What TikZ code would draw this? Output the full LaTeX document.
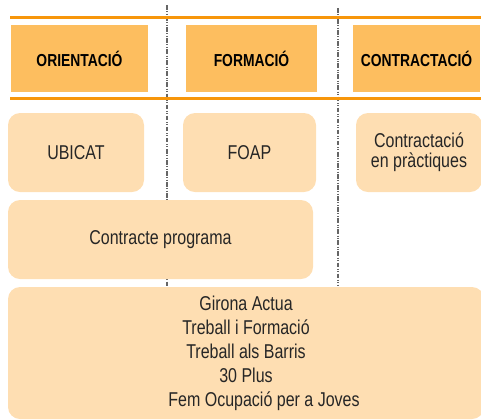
\documentclass[tikz,border=0pt]{standalone}
\usepackage{fontspec}
\setmainfont{Liberation Sans}[FakeStretch=0.8]
\usetikzlibrary{positioning}
\definecolor{rulecol}{RGB}{247,150,10}
\definecolor{headcol}{RGB}{253,190,95}
\definecolor{progcol}{RGB}{254,222,178}
\newcommand{\px}{0.75pt}

\begin{document}
\begin{tikzpicture}[x=\px, y=-\px]
\tikzstyle{head}=[fill=headcol, inner sep=0pt, minimum height=67*\px,
                        text=black, font=\fontsize{13}{15}\selectfont\bfseries]
\tikzstyle{prog}=[fill=progcol, rounded corners=12*\px, inner sep=0pt, align=center,
                        text=black!85, font=\fontsize{15}{18}\selectfont]
\tikzstyle{sep}=[draw=black!60, line width=0.8pt,
                        dash pattern=on 3.5pt off 1.2pt on 0.6pt off 1.2pt on 0.6pt off 1.2pt]
\tikzstyle{band}=[draw=rulecol, line width=1.6pt]
\clip (0,0) rectangle (481,419);
% column separators
\foreach \n/\x/\y in {A/167/5,B/338/8}{
  \coordinate (sep\n top) at (\x,\y);
  \coordinate (sep\n bot) at (\x,286);
  \draw[sep] (sep\n top) -- (sep\n bot);}
% orange rules
\foreach \n/\y in {up/17.5,down/98.5}{
  \coordinate (\n W) at (10,\y);
  \coordinate (\n E) at (481,\y);
  \draw[band] (\n W) -- (\n E);}
% headers
\node[head, minimum width=137*\px] (orient) at (79.5,58.5) {ORIENTACIÓ};
\node[head, minimum width=131*\px] (form) at (251.5,58.5) {FORMACIÓ};
\node[head, minimum width=127*\px] (contr) at (416.5,58.5) {CONTRACTACIÓ};
% programmes
\node[prog, minimum width=136*\px, minimum height=79*\px] (ubicat) at (76,152.5) {UBICAT};
\node[prog, minimum width=133*\px, minimum height=79*\px] (foap) at (249.5,152.5) {FOAP};
\node[prog, minimum width=126*\px, minimum height=79*\px,
      font=\fontsize{15}{15}\selectfont] (pract) at (419,152.5) {Contractació\\en pràctiques};
\node[prog, minimum width=305*\px, minimum height=79*\px] (cprog) at (160.5,239.5) {Contracte programa};
\node[prog, minimum width=476*\px, minimum height=132*\px] (local) at (246,353)
  {Girona Actua\\Treball i Formació\\Treball als Barris\\30 Plus\\\hspace*{27pt}Fem Ocupació per a Joves};
\end{tikzpicture}
\end{document}
